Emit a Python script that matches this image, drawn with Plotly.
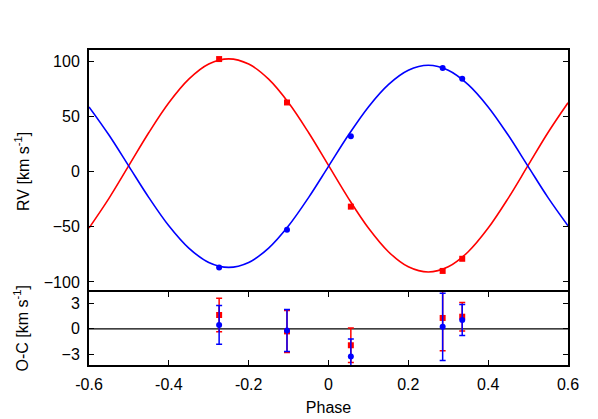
import plotly.graph_objects as go
from plotly.subplots import make_subplots

# fitted orbit curves
curve_phase = [-0.60, -0.55, -0.50, -0.45, -0.40, -0.35, -0.30, -0.25, -0.20, -0.15,
               -0.10, -0.05, 0.00, 0.05, 0.10, 0.15, 0.20, 0.25, 0.30, 0.35,
               0.40, 0.45, 0.50, 0.55, 0.60]
curve_red = [-51.2, -24.3, 5.5, 35.3, 62.2, 83.6, 97.3, 102.0, 97.3, 83.6,
             62.2, 35.3, 5.5, -24.3, -51.2, -72.6, -86.3, -91.0, -86.3, -72.6,
             -51.2, -24.3, 5.5, 35.3, 62.2]
curve_blue = [58.5, 33.0, 4.7, -23.6, -49.1, -69.3, -82.3, -86.8, -82.3, -69.3,
              -49.1, -23.6, 4.7, 33.0, 58.5, 78.7, 91.7, 96.2, 91.7, 78.7,
              58.5, 33.0, 4.7, -23.6, -49.1]

# observations
obs_phase = [-0.274, -0.104, 0.056, 0.286, 0.335]
rv_red = [101.8, 62.5, -31.8, -90.0, -79.0]
rv_blue = [-87.0, -52.7, 32.0, 93.6, 84.0]
oc_red = [1.65, -0.3, -1.95, 1.3, 1.45]
oc_red_err = [2.0, 2.5, 2.05, 3.9, 1.7]
oc_blue = [0.47, -0.2, -3.3, 0.24, 1.06]
oc_blue_err = [2.3, 2.5, 2.1, 4.0, 1.85]

x_ticks = [-0.6, -0.4, -0.2, 0, 0.2, 0.4, 0.6]
x_ticktext = ['-0.6', '-0.4', '-0.2', '0', '0.2', '0.4', '0.6']

RED = '#ff0000'
BLUE = '#0000ff'
FONT = 'Liberation Sans, Arial, sans-serif'

fig = make_subplots(rows=2, cols=1, shared_xaxes=True, vertical_spacing=0,
                    row_heights=[0.768, 0.232])

fig.add_trace(go.Scatter(x=curve_phase, y=curve_red, mode='lines', line_shape='spline',
                         line=dict(color=RED, width=1.6)), row=1, col=1)
fig.add_trace(go.Scatter(x=curve_phase, y=curve_blue, mode='lines', line_shape='spline',
                         line=dict(color=BLUE, width=1.6)), row=1, col=1)
fig.add_trace(go.Scatter(x=obs_phase, y=rv_red, mode='markers',
                         marker=dict(color=RED, symbol='square', size=6)), row=1, col=1)
fig.add_trace(go.Scatter(x=obs_phase, y=rv_blue, mode='markers',
                         marker=dict(color=BLUE, symbol='circle', size=6)), row=1, col=1)

# O-C panel
fig.add_trace(go.Scatter(x=[-0.6, 0.6], y=[0, 0], mode='lines',
                         line=dict(color='black', width=1.3)), row=2, col=1)
fig.add_trace(go.Scatter(x=obs_phase, y=oc_red, mode='markers',
                         marker=dict(color=RED, symbol='square', size=6),
                         error_y=dict(type='data', array=oc_red_err, color=RED,
                                      thickness=1.5, width=3)), row=2, col=1)
fig.add_trace(go.Scatter(x=obs_phase, y=oc_blue, mode='markers',
                         marker=dict(color=BLUE, symbol='circle', size=6),
                         error_y=dict(type='data', array=oc_blue_err, color=BLUE,
                                      thickness=1.5, width=3)), row=2, col=1)

axis_style = dict(showline=True, linecolor='black', linewidth=2, mirror=True,
                  showgrid=False, zeroline=False, ticks='inside', ticklen=5,
                  tickwidth=1.2, tickcolor='black', automargin=False,
                  tickfont=dict(family=FONT, size=16, color='black'))

fig.update_xaxes(axis_style)
fig.update_yaxes(axis_style)
# top panel: only the upper frame line, the divider comes from the lower panel
fig.update_xaxes(range=[-0.6, 0.6], ticks='', showticklabels=False, mirror=False,
                 side='top', row=1, col=1)
fig.update_xaxes(range=[-0.6, 0.6], tickvals=x_ticks, ticktext=x_ticktext,
                 mirror='allticks', ticklabelstandoff=4,
                 title=dict(text='Phase', font=dict(family=FONT, size=16, color='black'),
                            standoff=10), row=2, col=1)
fig.update_yaxes(range=[-109, 110], tickvals=[-100, -50, 0, 50, 100], mirror='allticks',
                 ticklabelstandoff=4, row=1, col=1)
fig.update_yaxes(range=[-4.3, 4.4], tickvals=[-3, 0, 3], mirror='allticks',
                 ticklabelstandoff=4, row=2, col=1)

# y titles as annotations so both sit at the same x
fig.add_annotation(text='RV [km s<sup>-1</sup>]', textangle=-90, showarrow=False,
                   xref='paper', yref='y domain', x=-0.14, y=0.5,
                   xanchor='center', yanchor='middle',
                   font=dict(family=FONT, size=16, color='black'))
fig.add_annotation(text='O-C [km s<sup>-1</sup>]', textangle=-90, showarrow=False,
                   xref='paper', yref='y2 domain', x=-0.14, y=0.5,
                   xanchor='center', yanchor='middle',
                   font=dict(family=FONT, size=16, color='black'))

fig.update_layout(
    width=590, height=411,
    margin=dict(l=81, r=30, t=42, b=54),
    plot_bgcolor='white', paper_bgcolor='white',
    showlegend=False,
    font=dict(family=FONT, color='black'),
)

fig.write_html("out.html")
